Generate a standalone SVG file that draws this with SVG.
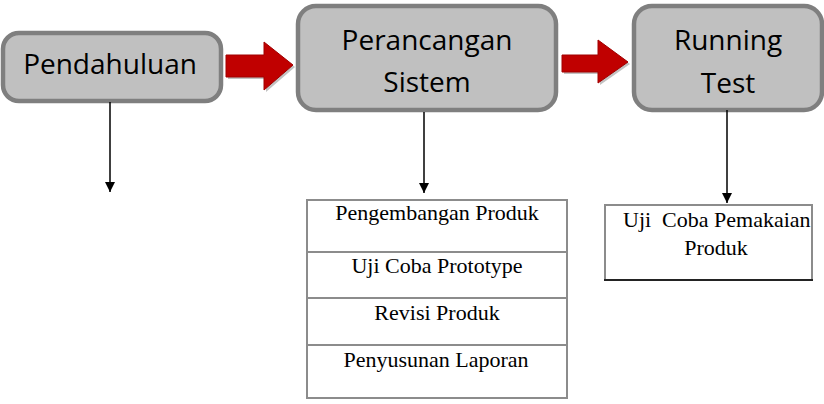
<svg xmlns="http://www.w3.org/2000/svg" width="824" height="404" viewBox="0 0 824 404">
<defs>
<marker id="ah" markerWidth="12" markerHeight="12" refX="10" refY="5" orient="auto" markerUnits="userSpaceOnUse">
<path d="M0,0 L10,5 L0,10 z" fill="#000"/>
</marker>
<style>
.box{fill:#c0c0c0;stroke:#7f7f7f;stroke-width:4.5}
.hd{font-family:"Open Sans","Noto Sans",sans-serif;font-size:28px;fill:#000;text-anchor:middle}
.tm{font-family:"Liberation Serif","Times New Roman",serif;font-size:22px;fill:#000}
.mid{text-anchor:middle}
.cell{fill:#fff;stroke:#8c8c8c;stroke-width:2}
.red{fill:#c00000;stroke:#a00000;stroke-width:1}
.sh{fill:#999;opacity:0.6}
.conn{stroke:#000;stroke-width:1.5;fill:none}
</style>
</defs>
<rect width="824" height="404" fill="#fff"/>

<g id="n-pendahuluan">
<rect class="box" x="3" y="33" width="218" height="68" rx="16"/>
<text class="hd" x="110" y="74">Pendahuluan</text>
</g>

<g id="n-perancangan">
<rect class="box" x="298" y="6" width="258" height="104" rx="18"/>
<text class="hd" x="427" y="50">Perancangan</text>
<text class="hd" x="427" y="92">Sistem</text>
</g>

<g id="n-running">
<rect class="box" x="634" y="6" width="188" height="104" rx="18"/>
<text class="hd" x="728" y="50">Running</text>
<text class="hd" x="728" y="93">Test</text>
</g>

<g id="n-list">
<rect class="cell" x="307" y="200" width="260" height="52"/>
<rect class="cell" x="307" y="252" width="260" height="46"/>
<rect class="cell" x="307" y="298" width="260" height="47"/>
<rect class="cell" x="307" y="345" width="260" height="53"/>
<text class="tm mid" x="437" y="220">Pengembangan Produk</text>
<text class="tm mid" x="437" y="273">Uji Coba Prototype</text>
<text class="tm mid" x="437" y="320">Revisi Produk</text>
<text class="tm mid" x="436" y="367">Penyusunan Laporan</text>
</g>

<g id="n-uji">
<rect x="605" y="205" width="207" height="75" fill="#fff" stroke="#8c8c8c" stroke-width="2"/>
<line x1="604" y1="280" x2="813" y2="280" stroke="#000" stroke-width="1.5"/>
<text class="tm" x="623" y="227" xml:space="preserve">Uji  Coba Pemakaian</text>
<text class="tm mid" x="716" y="255">Produk</text>
</g>

<g id="connectors">
<path class="sh" d="M228,57 L266,57 L266,44 L295,67 L266,92 L266,79 L228,79 z"/>
<path class="red" d="M226,55 L264,55 L264,42 L293,65 L264,90 L264,77 L226,77 z"/>
<path class="sh" d="M564,57 L600,57 L600,42 L630,64 L600,85 L600,74 L564,74 z"/>
<path class="red" d="M562,55 L598,55 L598,40 L628,62 L598,83 L598,72 L562,72 z"/>
<line class="conn" x1="110" y1="102" x2="110" y2="192" marker-end="url(#ah)"/>
<line class="conn" x1="424" y1="112" x2="424" y2="193" marker-end="url(#ah)"/>
<line class="conn" x1="727" y1="110" x2="727" y2="203" marker-end="url(#ah)"/>
</g>
</svg>
